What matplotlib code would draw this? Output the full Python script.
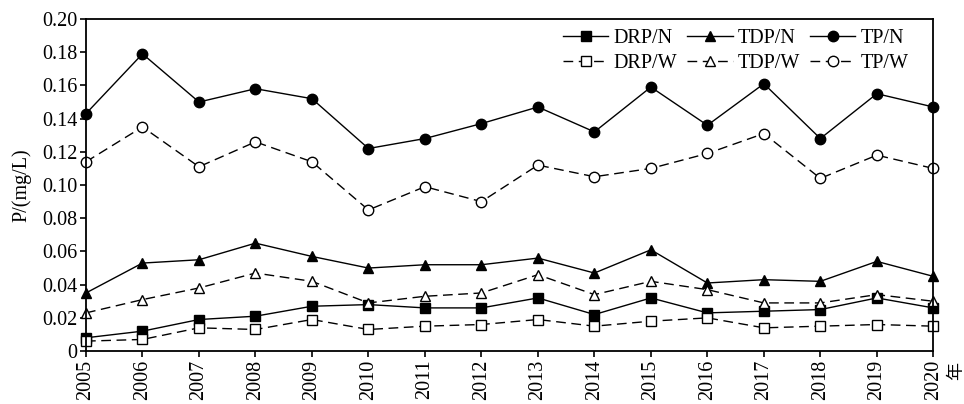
import matplotlib
matplotlib.use("Agg")
import matplotlib.pyplot as plt

years = list(range(2005, 2021))
tp_n = [0.143, 0.179, 0.150, 0.158, 0.152, 0.122, 0.128, 0.137, 0.147, 0.132, 0.159, 0.136, 0.161, 0.128, 0.155, 0.147]
tp_w = [0.114, 0.135, 0.111, 0.126, 0.114, 0.085, 0.099, 0.090, 0.112, 0.105, 0.110, 0.119, 0.131, 0.104, 0.118, 0.110]
tdp_n = [0.035, 0.053, 0.055, 0.065, 0.057, 0.050, 0.052, 0.052, 0.056, 0.047, 0.061, 0.041, 0.043, 0.042, 0.054, 0.045]
tdp_w = [0.023, 0.031, 0.038, 0.047, 0.042, 0.029, 0.033, 0.035, 0.046, 0.034, 0.042, 0.037, 0.029, 0.029, 0.034, 0.030]
drp_n = [0.008, 0.012, 0.019, 0.021, 0.027, 0.028, 0.026, 0.026, 0.032, 0.022, 0.032, 0.023, 0.024, 0.025, 0.032, 0.026]
drp_w = [0.006, 0.007, 0.014, 0.013, 0.019, 0.013, 0.015, 0.016, 0.019, 0.015, 0.018, 0.020, 0.014, 0.015, 0.016, 0.015]

yticks = [0, 0.02, 0.04, 0.06, 0.08, 0.10, 0.12, 0.14, 0.16, 0.18, 0.20]
ytick_labels = ["0", "0.02", "0.04", "0.06", "0.08", "0.10", "0.12", "0.14", "0.16", "0.18", "0.20"]

plt.rcParams['font.family'] = ['Liberation Serif', 'Noto Sans CJK SC']
plt.rcParams['font.size'] = 14.5

fig = plt.figure(figsize=(9.64, 4.04), dpi=100)
ax = fig.add_axes([0.0892, 0.131, 0.879, 0.822])

dash = (0, (7, 4))
common = dict(color='black', lw=1.0, markeredgecolor='black', markeredgewidth=1.0)
l_drp_n, = ax.plot(years, drp_n, marker='s', ms=7, mfc='black', ls='-', label='DRP/N', **common)
l_drp_w, = ax.plot(years, drp_w, marker='s', ms=7, mfc='white', ls=dash, label='DRP/W', **common)
l_tdp_n, = ax.plot(years, tdp_n, marker='^', ms=7.5, mfc='black', ls='-', label='TDP/N', **common)
l_tdp_w, = ax.plot(years, tdp_w, marker='^', ms=7.5, mfc='white', ls=dash, label='TDP/W', **common)
l_tp_n, = ax.plot(years, tp_n, marker='o', ms=7.5, mfc='black', ls='-', label='TP/N', **common)
l_tp_w, = ax.plot(years, tp_w, marker='o', ms=7.5, mfc='white', ls=dash, label='TP/W', **common)

ax.set_xlim(2005, 2020)
ax.set_ylim(0, 0.20)
ax.set_yticks(yticks)
ax.set_yticklabels(ytick_labels)
ax.set_xticks(years)
ax.set_xticklabels([str(y) for y in years], rotation=90)
ax.tick_params(direction='out', length=4, width=1.2, pad=2)
for s in ax.spines.values():
    s.set_linewidth(1.3)
ax.set_ylabel('P/(mg/L)', labelpad=8)

for ln in ax.get_lines():
    ln.set_clip_on(False)

leg = ax.legend(handles=[l_drp_n, l_drp_w, l_tdp_n, l_tdp_w, l_tp_n, l_tp_w], ncol=3,
                loc='upper right', bbox_to_anchor=(0.98, 0.995), frameon=False,
                handlelength=2.25, handletextpad=0.25, columnspacing=0.5,
                labelspacing=0.3, borderaxespad=0.0)

fig.text(0.992, 0.06, '年', rotation=90, family='Noto Sans CJK SC', fontsize=13, ha='center', va='bottom')

fig.savefig('out.png', dpi=100)
